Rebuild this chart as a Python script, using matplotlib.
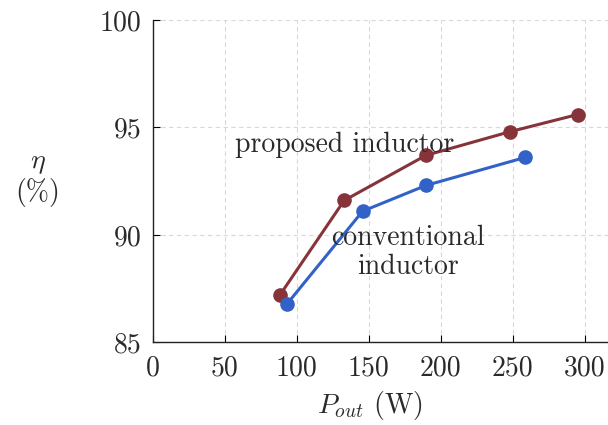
import matplotlib
matplotlib.use("Agg")
import matplotlib.pyplot as plt

# Output power (W) and efficiency (%) for the two inductor designs
p_proposed = [88.4, 133.0, 189.8, 248.1, 295.1]
eta_proposed = [87.2, 91.6, 93.7, 94.8, 95.6]
p_conventional = [93.5, 145.8, 189.8, 258.5]
eta_conventional = [86.8, 91.1, 92.3, 93.6]

x_ticks = [0, 50, 100, 150, 200, 250, 300]
y_ticks = [85, 90, 95, 100]

plt.rcParams["font.family"] = "serif"
plt.rcParams["font.serif"] = ["cmr10"]
plt.rcParams["mathtext.fontset"] = "cm"
plt.rcParams["axes.unicode_minus"] = False

fig = plt.figure(figsize=(6.08, 4.25), dpi=100)
ax = fig.add_axes([0.251, 0.1946, 0.749, 0.7584])

red = "#86343a"
blue = "#3262c8"
ink = "#2a2a2a"

ax.plot(p_proposed, eta_proposed, color=red, lw=2.2, marker="o", ms=9.5, zorder=3)
ax.plot(p_conventional, eta_conventional, color=blue, lw=2.2, marker="o", ms=9.5, zorder=3)

ax.set_xlim(0, 316.2)
ax.set_ylim(85, 100)
ax.set_xticks(x_ticks)
ax.set_yticks(y_ticks)
ax.tick_params(direction="in", length=5, width=0.8, labelsize=20, labelcolor=ink)
ax.tick_params(axis="x", pad=9)
ax.tick_params(axis="y", pad=8)

for s in ["top", "right"]:
    ax.spines[s].set_visible(False)
for s in ["left", "bottom"]:
    ax.spines[s].set_linewidth(1.0)
    ax.spines[s].set_color("#222222")

ax.grid(True, color="#d8d8d8", linestyle=(0, (4, 3)), linewidth=0.8)
ax.set_axisbelow(True)

ax.text(133.5, 94.2, "proposed inductor", fontsize=20, ha="center", va="center", color=ink)
ax.text(177, 89.2, "conventional\ninductor", fontsize=20, ha="center", va="center",
        color=ink, linespacing=1.15)

fig.text(370 / 608, 1 - 405 / 425, r"$P_{out}$ (W)", fontsize=20, ha="center", va="center",
         color=ink)
fig.text(38 / 608, 1 - 178 / 425, "$\\eta$\n(%)", fontsize=20, ha="center", va="center",
         color=ink, linespacing=1.1)

fig.savefig("out.png", dpi=100)
